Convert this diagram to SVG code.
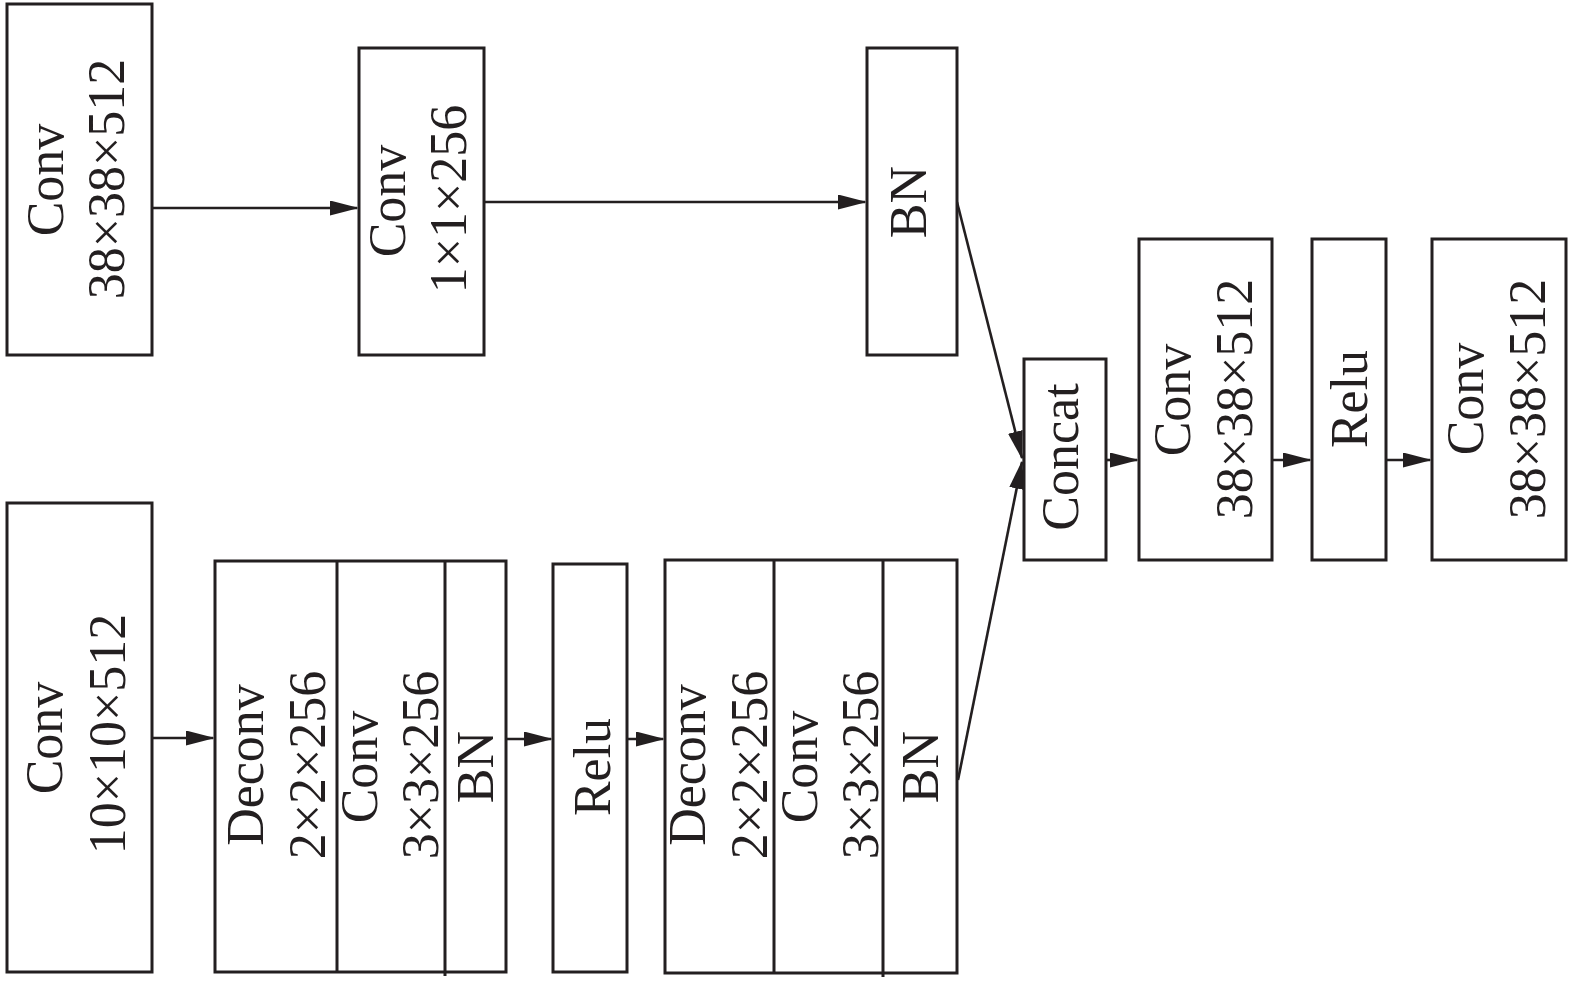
<svg xmlns="http://www.w3.org/2000/svg" width="1575" height="981" viewBox="0 0 1575 981">
<style>
.box{fill:#fff;stroke:#231f20;stroke-width:3}
.div{stroke:#231f20;stroke-width:3;fill:none}
.lbl{font-family:"Liberation Serif","Times New Roman",serif;font-size:52px;fill:#231f20;text-anchor:middle}
.con{stroke:#231f20;stroke-width:2.6;fill:none;marker-end:url(#ah)}
</style>
<defs>
<marker id="ah" markerUnits="userSpaceOnUse" markerWidth="29" markerHeight="15" refX="27" refY="7.5" orient="auto">
<path d="M0,0 L29,7.5 L0,15 Z" fill="#231f20"/>
</marker>
</defs>
<rect width="1575" height="981" fill="#fff"/>

<g id="connectors">
<line class="con" x1="152" y1="208" x2="357" y2="208"/>
<line class="con" x1="484" y1="202" x2="865" y2="202"/>
<line class="con" x1="957" y1="202" x2="1022" y2="458"/>
<line class="con" x1="958" y1="780" x2="1022" y2="462"/>
<line class="con" x1="1106" y1="460" x2="1137" y2="460"/>
<line class="con" x1="1272" y1="460" x2="1310" y2="460"/>
<line class="con" x1="1386" y1="460" x2="1430" y2="460"/>
<line class="con" x1="152" y1="738" x2="213" y2="738"/>
<line class="con" x1="506" y1="739" x2="551" y2="739"/>
<line class="con" x1="627" y1="739" x2="663" y2="739"/>
</g>

<g id="conv_38_top">
<rect class="box" x="7" y="4" width="145" height="351"/>
<text class="lbl" transform="translate(63,180) rotate(-90)">Conv</text>
<text class="lbl" transform="translate(124,179) rotate(-90)">38×38×512</text>
</g>

<g id="conv_1x1">
<rect class="box" x="359" y="48" width="125" height="307"/>
<text class="lbl" transform="translate(405,201) rotate(-90)">Conv</text>
<text class="lbl" transform="translate(466,199) rotate(-90)">1×1×256</text>
</g>

<g id="bn_top">
<rect class="box" x="867" y="48" width="90" height="307"/>
<text class="lbl" transform="translate(926,202) rotate(-90)">BN</text>
</g>

<g id="concat">
<rect class="box" x="1024" y="359" width="82" height="201"/>
<text class="lbl" transform="translate(1078,457) rotate(-90)">Concat</text>
</g>

<g id="conv_38_a">
<rect class="box" x="1139" y="239" width="133" height="321"/>
<text class="lbl" transform="translate(1190,400) rotate(-90)">Conv</text>
<text class="lbl" transform="translate(1252,399) rotate(-90)">38×38×512</text>
</g>

<g id="relu_right">
<rect class="box" x="1312" y="239" width="74" height="321"/>
<text class="lbl" transform="translate(1367,399) rotate(-90)">Relu</text>
</g>

<g id="conv_38_b">
<rect class="box" x="1432" y="239" width="134" height="321"/>
<text class="lbl" transform="translate(1483,399) rotate(-90)">Conv</text>
<text class="lbl" transform="translate(1545,399) rotate(-90)">38×38×512</text>
</g>

<g id="conv_10">
<rect class="box" x="7" y="503" width="145" height="469"/>
<text class="lbl" transform="translate(62,738) rotate(-90)">Conv</text>
<text class="lbl" transform="translate(125,734) rotate(-90)">10×10×512</text>
</g>

<g id="deconv_block_1">
<rect class="box" x="215" y="561" width="291" height="411"/>
<line class="div" x1="337" y1="561" x2="337" y2="972"/>
<line class="div" x1="445" y1="561" x2="445" y2="976"/>
<text class="lbl" transform="translate(263,765) rotate(-90)">Deconv</text>
<text class="lbl" transform="translate(325,765) rotate(-90)">2×2×256</text>
<text class="lbl" transform="translate(377,767) rotate(-90)">Conv</text>
<text class="lbl" transform="translate(438,765) rotate(-90)">3×3×256</text>
<text class="lbl" transform="translate(493,767) rotate(-90)">BN</text>
</g>

<g id="relu_bottom">
<rect class="box" x="553" y="564" width="74" height="408"/>
<text class="lbl" transform="translate(610,767) rotate(-90)">Relu</text>
</g>

<g id="deconv_block_2">
<rect class="box" x="665" y="560" width="292" height="413"/>
<line class="div" x1="774" y1="560" x2="774" y2="973"/>
<line class="div" x1="883" y1="560" x2="883" y2="977"/>
<text class="lbl" transform="translate(705,765) rotate(-90)">Deconv</text>
<text class="lbl" transform="translate(767,765) rotate(-90)">2×2×256</text>
<text class="lbl" transform="translate(817,767) rotate(-90)">Conv</text>
<text class="lbl" transform="translate(878,765) rotate(-90)">3×3×256</text>
<text class="lbl" transform="translate(938,767) rotate(-90)">BN</text>
</g>
</svg>
